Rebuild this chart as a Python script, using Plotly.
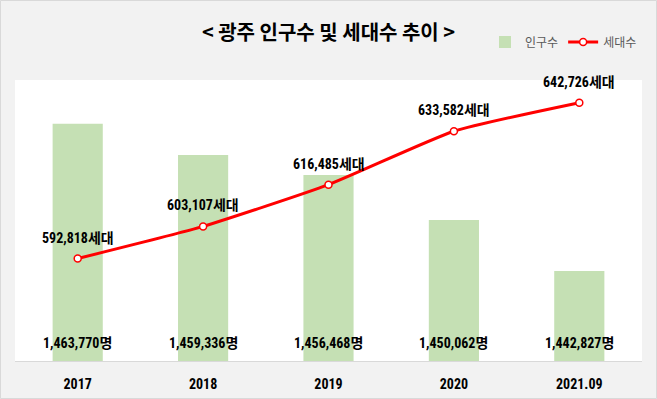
import plotly.graph_objects as go

categories = ["2017", "2018", "2019", "2020", "2021.09"]
population = [1463770, 1459336, 1456468, 1450062, 1442827]
households = [592818, 603107, 616485, 633582, 642726]

W, H = 657, 399
ML, MR, MT, MB = 15, 15, 80, 38
PW, PH = W - ML - MR, H - MT - MB

FONT_NUM = "Liberation Sans Narrow, Roboto Condensed, Noto Sans CJK KR, sans-serif"
FONT_KR = "Noto Sans CJK KR, sans-serif"

fig = go.Figure()
fig.add_trace(go.Bar(
    x=categories, y=population, name="인구수",
    marker=dict(color="#C5E0B4", line=dict(width=0)),
    width=0.4, yaxis="y",
))
fig.add_trace(go.Scatter(
    x=categories, y=households, name="세대수", yaxis="y2",
    mode="lines+markers",
    line=dict(color="#FF0000", width=3, shape="spline", smoothing=0.5),
    marker=dict(size=7, color="white", line=dict(color="#FF0000", width=1.5)),
))

annotations = []
# category axes: numeric-looking names must be given by index in annotations
for i, p in enumerate(population):
    annotations.append(dict(
        x=i, y=0, xref="x", yref="paper", yanchor="middle", yshift=18,
        text=f"{p:,}명", showarrow=False,
        font=dict(family=FONT_NUM, size=14, color="black", weight="bold"),
    ))
for i, h in enumerate(households):
    annotations.append(dict(
        x=i, y=h, xref="x", yref="y2", yanchor="middle", yshift=21,
        text=f"{h:,}세대", showarrow=False,
        font=dict(family=FONT_NUM, size=14, color="black", weight="bold"),
    ))

fig.update_layout(
    width=W, height=H,
    margin=dict(l=ML, r=MR, t=MT, b=MB, pad=0, autoexpand=False),
    paper_bgcolor="#F2F2F2", plot_bgcolor="white",
    title=dict(text="< 광주 인구수 및 세대수 추이 >", x=0.5, xanchor="center",
               y=1 - 33 / H, yanchor="middle",
               font=dict(family=FONT_KR, size=20, color="black", weight="bold")),
    legend=dict(orientation="h", x=1, xanchor="right", y=1 + 38 / PH, yanchor="middle",
                font=dict(family=FONT_KR, size=12, color="#595959"),
                bgcolor="rgba(0,0,0,0)", itemwidth=30, traceorder="normal"),
    xaxis=dict(type="category", range=[-0.5, len(categories) - 0.5], showline=True,
               linecolor="#D9D9D9", linewidth=1, ticks="", automargin=False,
               showgrid=False, tickfont=dict(family=FONT_NUM, size=14, color="black", weight="bold"),
               ticklabelstandoff=10),
    yaxis=dict(range=[1430000, 1470000], visible=False, showgrid=False, automargin=False),
    yaxis2=dict(range=[560000, 650000], visible=False, overlaying="y", showgrid=False,
                automargin=False),
    annotations=annotations,
    shapes=[dict(type="rect", xref="paper", yref="paper",
                 x0=(0.5 - ML) / PW, x1=1 + (MR - 0.5) / PW,
                 y0=-(MB - 0.5) / PH, y1=1 + (MT - 0.5) / PH,
                 line=dict(color="#D9D9D9", width=1), fillcolor="rgba(0,0,0,0)", layer="below")],
    showlegend=True,
)

fig.write_html("out.html", config={"displayModeBar": False},
               post_script="document.body.style.margin='0';document.body.style.overflow='hidden';")
